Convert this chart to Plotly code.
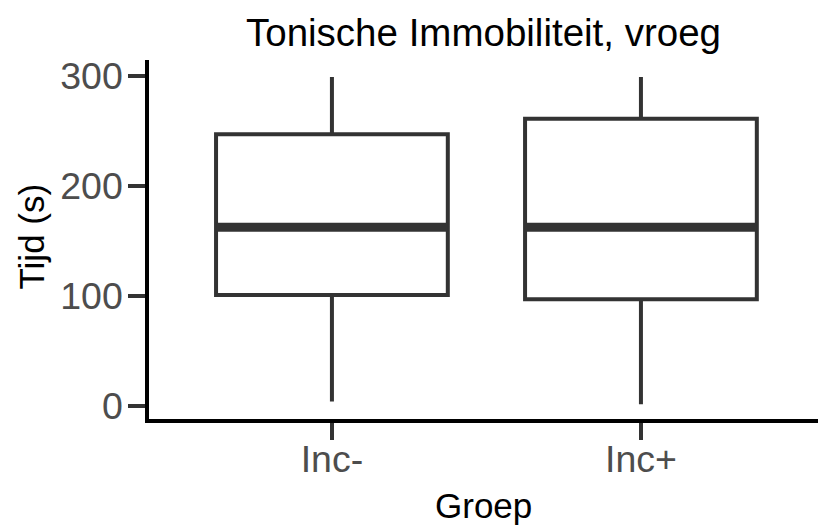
import plotly.graph_objects as go

groups = ["Inc-", "Inc+"]
minimum = [4, 1.5]
q1 = [101, 97]
median = [162.5, 162.5]
q3 = [247, 261]
maximum = [299, 299]

y_ticks = [0, 100, 200, 300]

box_width = 0.75
pos = list(range(len(groups)))

W, H = 818, 526
ml, mt, mb = 149, 60, 107
plot_h = H - mt - mb
plot_w = W - ml

fig = go.Figure()
fig.add_trace(go.Box(
    x=pos,
    q1=q1, median=median, q3=q3,
    lowerfence=minimum, upperfence=maximum,
    width=box_width,
    whiskerwidth=0,
    fillcolor="white",
    line=dict(color="#333333", width=4),
    boxpoints=False,
    hoverinfo="skip",
    showlegend=False,
))

# thicker median line like ggplot's fatten
for i, m in enumerate(median):
    fig.add_trace(go.Scatter(
        x=[pos[i] - box_width / 2, pos[i] + box_width / 2],
        y=[m, m],
        mode="lines",
        line=dict(color="#333333", width=9),
        showlegend=False,
        hoverinfo="skip",
    ))

font = "Liberation Sans, Arial, sans-serif"

fig.update_layout(
    width=W, height=H,
    margin=dict(l=ml, r=0, t=mt, b=mb),
    plot_bgcolor="white",
    paper_bgcolor="white",
    font=dict(family=font, color="black"),
    title=dict(
        text="Tonische Immobiliteit, vroeg",
        x=0.5, xref="paper", xanchor="center",
        y=1 - 33 / H, yref="container", yanchor="middle",
        font=dict(size=38.5, color="black"),
    ),
    showlegend=False,
)

fig.update_xaxes(
    range=[-0.592, 1.573],
    tickvals=pos, ticktext=groups,
    showgrid=False, zeroline=False,
    showline=True, linecolor="black", linewidth=3.5,
    ticks="outside", ticklen=17, tickwidth=3.5, tickcolor="#333333",
    tickfont=dict(size=37.5, color="#4D4D4D"),
    ticklabelstandoff=-13,
)
fig.update_yaxes(
    range=[-11.8, 314.5],
    tickvals=y_ticks,
    showgrid=False, zeroline=False,
    showline=True, linecolor="black", linewidth=3.5,
    ticks="outside", ticklen=17, tickwidth=3.5, tickcolor="#333333",
    tickfont=dict(size=37.5, color="#4D4D4D"),
    ticklabelstandoff=-2,
)

fig.add_annotation(
    text="Groep", xref="paper", yref="paper",
    x=0.5, y=(H - mb - 505.5) / plot_h,
    xanchor="center", yanchor="middle", showarrow=False,
    font=dict(size=35, color="black"),
)
fig.add_annotation(
    text="Tijd (s)", xref="paper", yref="paper",
    x=(30.5 - ml) / plot_w, y=(H - mb - 236) / plot_h,
    xanchor="center", yanchor="middle", showarrow=False, textangle=-90,
    font=dict(size=35, color="black"),
)

# drop the browser's default 8px body margin so the figure fills the window
fig.write_html(
    "out.html",
    config={"displayModeBar": False},
    post_script="document.body.style.margin='0';",
)
